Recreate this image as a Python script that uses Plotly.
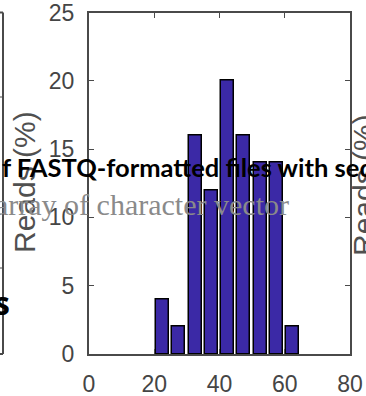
import plotly.graph_objects as go

# Data
bin_centers = [22.5, 27.5, 32.5, 37.5, 42.5, 47.5, 52.5, 57.5, 62.5]
reads_pct = [4, 2, 16, 12, 20, 16, 14, 14, 2]
x_ticks = [0, 20, 40, 60, 80]
y_ticks = [0, 5, 10, 15, 20, 25]

W, H = 366, 396


def px(x):
    return x / W


def py(y):
    return 1 - y / H


AX = "#4a4a4a"
TXT = "#454545"

fig = go.Figure()
fig.add_trace(go.Bar(
    x=bin_centers, y=reads_pct, width=4,
    marker=dict(color="#3b29a6", line=dict(color="#000000", width=1.5)),
    showlegend=False, hoverinfo="skip",
))

axis_common = dict(
    showline=True, linecolor=AX, linewidth=2, mirror="ticks",
    ticks="inside", ticklen=5, tickwidth=1, tickcolor=AX,
    showgrid=False, zeroline=False, automargin=False,
    ticklabeloverflow="allow",
    tickfont=dict(family="Liberation Sans, Arial", size=23, color=TXT),
    fixedrange=True,
)

fig.update_layout(
    width=W, height=H, autosize=False,
    margin=dict(l=0, r=0, t=0, b=0, pad=0),
    paper_bgcolor="white", plot_bgcolor="white",
    xaxis=dict(domain=[px(89), px(350)], range=[0, 80.001], tickvals=x_ticks,
               ticklabelstandoff=8, **axis_common),
    yaxis=dict(domain=[py(354), py(12.5)], range=[0, 25.001], tickvals=y_ticks,
               ticklabelstandoff=8, **axis_common),
    bargap=0,
)

# fragment of neighbouring (left) axes
frag = dict(type="line", xref="paper", yref="paper", line=dict(color=AX, width=2))
fig.add_shape(x0=px(3), x1=px(3), y0=py(354), y1=py(12.5), **frag)
fig.add_shape(x0=px(-5), x1=px(3), y0=py(354), y1=py(354), **frag)
fig.add_shape(x0=px(-5), x1=px(3), y0=py(12.5), y1=py(12.5), **frag)
for ty in (97, 268):
    fig.add_shape(type="line", xref="paper", yref="paper", x0=px(-2), x1=px(3),
                  y0=py(ty), y1=py(ty), line=dict(color=AX, width=1))

# y labels
fig.add_annotation(x=px(25), y=py(182), xref="paper", yref="paper", text="Reads (%)",
                   textangle=-90, showarrow=False, xanchor="center", yanchor="middle",
                   font=dict(family="Liberation Sans, Arial", size=30, color="#505050"))
fig.add_annotation(x=px(364), y=py(185), xref="paper", yref="paper", text="Reads (%)",
                   textangle=-90, showarrow=False, xanchor="center", yanchor="middle",
                   font=dict(family="Liberation Sans, Arial", size=30, color="#505050"))

# overlapping texts
fig.add_annotation(x=px(291), y=py(205), xref="paper", yref="paper",
                   text="array of character vector", showarrow=False,
                   xanchor="right", yanchor="middle",
                   font=dict(family="Liberation Serif, serif", size=30, color="#8a8a8a"))
fig.add_annotation(x=px(0), y=py(167), xref="paper", yref="paper",
                   text="<b>f FASTQ-formatted files with seq</b>", showarrow=False,
                   xanchor="left", yanchor="middle",
                   font=dict(family="Lato, sans-serif", size=25.5, color="#000000"))
fig.add_annotation(x=px(12), y=py(302), xref="paper", yref="paper",
                   text="<b>s</b>", showarrow=False, xanchor="right", yanchor="middle",
                   font=dict(family="Open Sans, sans-serif", size=32, color="#000000"))

fig.write_html("out.html", config={"displayModeBar": False},
               post_script="document.body.style.margin='0';")
